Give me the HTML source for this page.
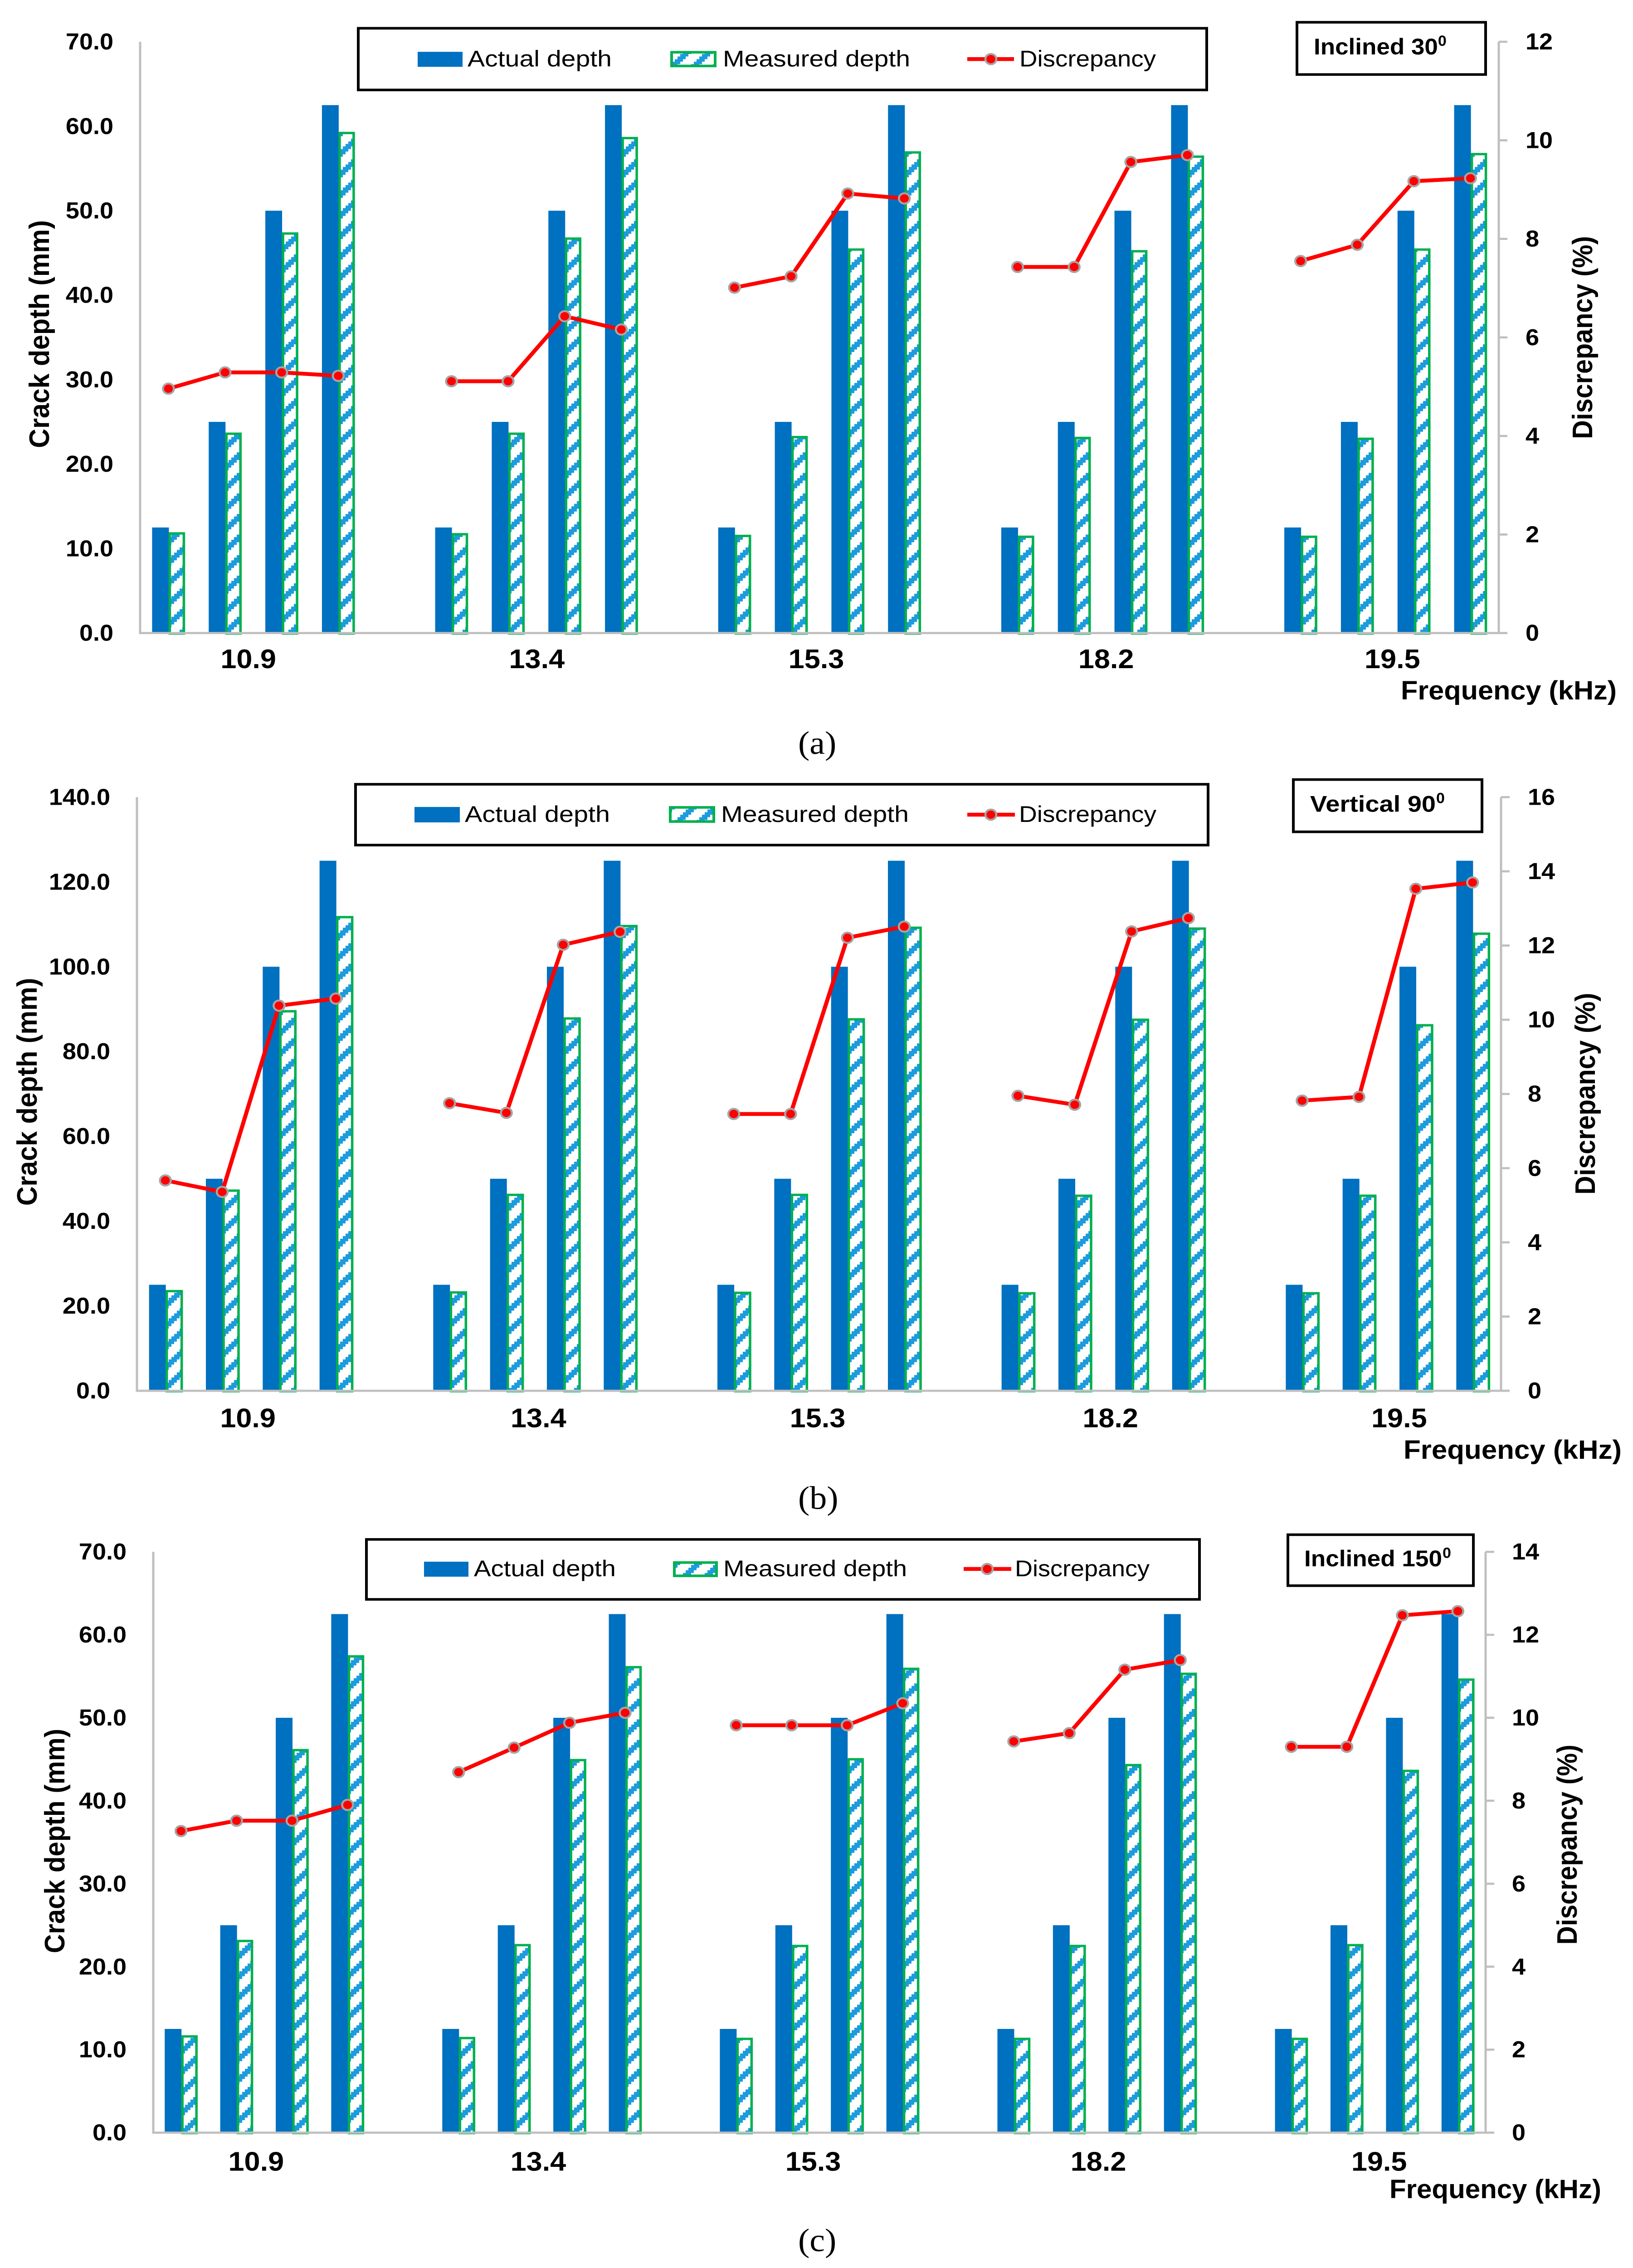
<!DOCTYPE html>
<html lang="en">
<head>
<meta charset="utf-8">
<title>Crack depth and discrepancy versus frequency</title>
<style>
html,body{margin:0;padding:0;background:#fff;width:3601px;height:5295px;overflow:hidden}
#frame{position:relative;width:3601px;height:5295px;overflow:hidden}
svg{display:block;position:absolute;left:0;top:0}
text{font-family:"Liberation Sans",sans-serif;fill:#000}
.b{font-weight:700}
.tick{font-size:54px;font-weight:700}
.cat{font-size:63px;font-weight:700}
.axt{font-size:62px;font-weight:700}
.leg{font-size:53px}
.ins{font-size:53px;font-weight:700}
.cap{font-size:76px;font-family:"Liberation Serif",serif}
</style>
</head>
<body>
<div id="frame">
<svg id="figure" xmlns="http://www.w3.org/2000/svg" width="3601" height="5295" viewBox="0 0 3601 5295" preserveAspectRatio="none">
<defs>
  <pattern id="hatch" patternUnits="userSpaceOnUse" width="48" height="48">
    <rect width="48" height="48" fill="#fff"/>
    <g id="hatch-steps" fill="#1C9BDD" shape-rendering="crispEdges"></g>
  </pattern>
</defs>

<g id="chart-a"></g>
<g id="chart-b"></g>
<g id="chart-c"></g>

<!-- Chart (a) annotations -->
<g>
  <rect x="790" y="66" width="1871" height="144" fill="none" stroke="#000" stroke-width="6"/>
  <rect x="921" y="121" width="99" height="35" fill="#0070C0"/>
  <text class="leg" x="1031" y="155" textLength="318" lengthAdjust="spacingAndGlyphs">Actual depth</text>
  <rect x="1481" y="122" width="96" height="32" fill="url(#hatch)" stroke="#00B050" stroke-width="6"/>
  <text class="leg" x="1594" y="155" textLength="413" lengthAdjust="spacingAndGlyphs">Measured depth</text>
  <line x1="2133" y1="138" x2="2236" y2="138" stroke="#f00" stroke-width="9"/>
  <circle cx="2185" cy="138" r="12" fill="#f00" stroke="#A5A5A5" stroke-width="4.5"/>
  <text class="leg" x="2248" y="155" textLength="301" lengthAdjust="spacingAndGlyphs">Discrepancy</text>
</g>
<g>
  <rect x="2860" y="52" width="416" height="122" fill="none" stroke="#000" stroke-width="6"/>
  <text class="ins" x="2897" y="127">Inclined 30<tspan dy="-20" font-size="34">0</tspan></text>
</g>
<text class="axt" transform="translate(108 1046) rotate(-90)" textLength="532" lengthAdjust="spacingAndGlyphs">Crack depth (mm)</text>
<text class="axt" transform="translate(3511 1025) rotate(-90)" textLength="474" lengthAdjust="spacingAndGlyphs">Discrepancy (%)</text>
<text class="axt" x="3089" y="1633" textLength="476" lengthAdjust="spacingAndGlyphs">Frequency (kHz)</text>
<text class="cap" x="1760" y="1760">(a)</text>

<!-- Chart (b) annotations -->
<g>
  <rect x="784" y="1831" width="1880" height="142" fill="none" stroke="#000" stroke-width="6"/>
  <rect x="914" y="1884" width="100" height="36" fill="#0070C0"/>
  <text class="leg" x="1025" y="1919" textLength="320" lengthAdjust="spacingAndGlyphs">Actual depth</text>
  <rect x="1478" y="1885" width="96" height="33" fill="url(#hatch)" stroke="#00B050" stroke-width="6"/>
  <text class="leg" x="1590" y="1919" textLength="414" lengthAdjust="spacingAndGlyphs">Measured depth</text>
  <line x1="2133" y1="1902" x2="2238" y2="1902" stroke="#f00" stroke-width="9"/>
  <circle cx="2185" cy="1902" r="12" fill="#f00" stroke="#A5A5A5" stroke-width="4.5"/>
  <text class="leg" x="2247" y="1919" textLength="303" lengthAdjust="spacingAndGlyphs">Discrepancy</text>
</g>
<g>
  <rect x="2852" y="1820" width="416" height="122" fill="none" stroke="#000" stroke-width="6"/>
  <text class="ins" x="2889" y="1895" textLength="277" lengthAdjust="spacingAndGlyphs">Vertical 90</text>
  <text class="ins" x="3167" y="1875" style="font-size:34px">0</text>
</g>
<text class="axt" transform="translate(81 2815) rotate(-90)" textLength="532" lengthAdjust="spacingAndGlyphs">Crack depth (mm)</text>
<text class="axt" transform="translate(3517 2789) rotate(-90)" textLength="471" lengthAdjust="spacingAndGlyphs">Discrepancy (%)</text>
<text class="axt" x="3095" y="3406" textLength="481" lengthAdjust="spacingAndGlyphs">Frequency (kHz)</text>
<text class="cap" x="1760" y="3523">(b)</text>

<!-- Chart (c) annotations -->
<g>
  <rect x="808" y="3594" width="1837" height="140" fill="none" stroke="#000" stroke-width="6"/>
  <rect x="935" y="3646" width="98" height="35" fill="#0070C0"/>
  <text class="leg" x="1045" y="3680" textLength="313" lengthAdjust="spacingAndGlyphs">Actual depth</text>
  <rect x="1487" y="3648" width="93" height="31" fill="url(#hatch)" stroke="#00B050" stroke-width="6"/>
  <text class="leg" x="1595" y="3680" textLength="405" lengthAdjust="spacingAndGlyphs">Measured depth</text>
  <line x1="2125" y1="3663" x2="2230" y2="3663" stroke="#f00" stroke-width="9"/>
  <circle cx="2177" cy="3663" r="12" fill="#f00" stroke="#A5A5A5" stroke-width="4.5"/>
  <text class="leg" x="2238" y="3680" textLength="297" lengthAdjust="spacingAndGlyphs">Discrepancy</text>
</g>
<g>
  <rect x="2840" y="3583" width="409" height="119" fill="none" stroke="#000" stroke-width="6"/>
  <text class="ins" x="2876" y="3657" textLength="304" lengthAdjust="spacingAndGlyphs">Inclined 150</text>
  <text class="ins" x="3181" y="3637" style="font-size:34px">0</text>
</g>
<text class="axt" transform="translate(142 4560) rotate(-90)" textLength="524" lengthAdjust="spacingAndGlyphs">Crack depth (mm)</text>
<text class="axt" transform="translate(3477 4540) rotate(-90)" textLength="467" lengthAdjust="spacingAndGlyphs">Discrepancy (%)</text>
<text class="axt" x="3064" y="5132" textLength="467" lengthAdjust="spacingAndGlyphs">Frequency (kHz)</text>
<text class="cap" x="1760" y="5256">(c)</text>
</svg>
</div>

<script>
// ---- Data ----
const categories = ['10.9', '13.4', '15.3', '18.2', '19.5'];

const actualA = [12.5, 25, 50, 62.5, 12.5, 25, 50, 62.5, 12.5, 25, 50, 62.5, 12.5, 25, 50, 62.5, 12.5, 25, 50, 62.5];
const measuredA = [11.8, 23.6, 47.3, 59.2, 11.7, 23.6, 46.7, 58.6, 11.5, 23.2, 45.4, 56.9, 11.4, 23.1, 45.2, 56.4, 11.4, 23.0, 45.4, 56.7];
const discrepancyA = [4.96, 5.29, 5.29, 5.22, 5.11, 5.11, 6.43, 6.16, 7.01, 7.24, 8.92, 8.82, 7.43, 7.43, 9.56, 9.70, 7.55, 7.88, 9.17, 9.23];
const leftTicksA = [0, 10, 20, 30, 40, 50, 60, 70];
const rightTicksA = [0, 2, 4, 6, 8, 10, 12];

const actualB = [25, 50, 100, 125, 25, 50, 100, 125, 25, 50, 100, 125, 25, 50, 100, 125, 25, 50, 100, 125];
const measuredB = [23.5, 47.2, 89.5, 111.7, 23.2, 46.2, 87.8, 109.6, 23.1, 46.2, 87.6, 109.2, 23.0, 46.0, 87.5, 109.0, 23.0, 46.0, 86.2, 107.8];
const discrepancyB = [5.67, 5.36, 10.38, 10.57, 7.75, 7.49, 12.02, 12.37, 7.46, 7.46, 12.21, 12.51, 7.95, 7.71, 12.38, 12.74, 7.82, 7.92, 13.53, 13.70];
const leftTicksB = [0, 20, 40, 60, 80, 100, 120, 140];
const rightTicksB = [0, 2, 4, 6, 8, 10, 12, 14, 16];

const actualC = [12.5, 25, 50, 62.5, 12.5, 25, 50, 62.5, 12.5, 25, 50, 62.5, 12.5, 25, 50, 62.5, 12.5, 25, 50, 62.5];
const measuredC = [11.6, 23.1, 46.1, 57.4, 11.4, 22.6, 44.9, 56.1, 11.3, 22.5, 45.0, 55.9, 11.3, 22.5, 44.3, 55.3, 11.3, 22.6, 43.6, 54.6];
const discrepancyC = [7.27, 7.52, 7.52, 7.90, 8.69, 9.28, 9.88, 10.12, 9.82, 9.82, 9.82, 10.35, 9.43, 9.63, 11.16, 11.39, 9.30, 9.30, 12.47, 12.57];
const leftTicksC = [0, 10, 20, 30, 40, 50, 60, 70];
const rightTicksC = [0, 2, 4, 6, 8, 10, 12, 14];

// If the viewport is a little shorter than the figure, fit the figure to it
// so the bottom of the last chart and its caption stay inside the frame.
const viewH = window.innerHeight;
if (viewH >= 4000 && viewH < 5295) {
  document.documentElement.style.height = viewH + 'px';
  document.body.style.height = viewH + 'px';
  document.getElementById('frame').style.height = viewH + 'px';
  document.getElementById('figure').setAttribute('height', viewH);
}

// ---- Rendering ----
const SVGNS = 'http://www.w3.org/2000/svg';
function add(parent, tag, attrs) {
  const el = document.createElementNS(SVGNS, tag);
  for (const k in attrs) el.setAttribute(k, attrs[k]);
  parent.appendChild(el);
  return el;
}

// Hatch cells: an 8x8 upward diagonal, drawn as stepped blocks.
const hatchSteps = document.getElementById('hatch-steps');
for (let k = 0; k < 8; k++) {
  for (let j = 0; j < 3; j++) {
    add(hatchSteps, 'rect', { x: k * 6, y: ((7 - k + j) % 8) * 6, width: 6, height: 6 });
  }
}

function fmtLeft(v) { return v.toFixed(1); }

function drawChart(cfg) {
  const root = document.getElementById(cfg.id);
  const n = 24;
  const slotW = (cfg.right - cfg.left) / n;
  const leftMax = cfg.leftTicks[cfg.leftTicks.length - 1];
  const rightMax = cfg.rightTicks[cfg.rightTicks.length - 1];
  const slotOf = i => Math.floor(i / 4) * 5 + (i % 4);
  const xSlot = s => cfg.left + (s + 0.5) * slotW;
  const yLeft = v => cfg.y0 - v / leftMax * (cfg.y0 - cfg.top);
  const yRight = v => cfg.y0 - v / rightMax * (cfg.y0 - cfg.top);

  cfg.actual.forEach((v, i) => {
    const c = xSlot(slotOf(i));
    const bar = add(root, 'rect', { x: c - 36, y: yLeft(v), width: 37, height: cfg.y0 - yLeft(v), fill: '#0070C0' });
    
    
  });
  cfg.measured.forEach((v, i) => {
    const c = xSlot(slotOf(i));
    const bar = add(root, 'rect', { x: c + 3, y: yLeft(v), width: cfg.mw, height: cfg.y0 + 1 - yLeft(v), fill: 'url(#hatch)', stroke: '#00B050', 'stroke-width': 5.5 });
    
    
  });

  const leftAxis = add(root, 'line', { x1: cfg.left, y1: cfg.top, x2: cfg.left, y2: cfg.y0 + 2.5, stroke: '#BFBFBF', 'stroke-width': 5 });
  
  
  const rightAxis = add(root, 'line', { x1: cfg.right, y1: cfg.top, x2: cfg.right, y2: cfg.y0, stroke: '#BFBFBF', 'stroke-width': 5 });
  
  
  const xAxis = add(root, 'line', { x1: cfg.left - 2.5, y1: cfg.y0, x2: cfg.right + 19, y2: cfg.y0, stroke: '#BFBFBF', 'stroke-width': 5 });
  
  

  cfg.leftTicks.forEach(v => {
    const t = add(root, 'text', { class: 'tick', x: cfg.leftLabelX, y: yLeft(v) + 18, 'text-anchor': 'end' });
    t.textContent = fmtLeft(v);
    
    
  });
  cfg.rightTicks.forEach(v => {
    const m = add(root, 'line', { x1: cfg.right, y1: yRight(v), x2: cfg.right + 19, y2: yRight(v), stroke: '#BFBFBF', 'stroke-width': 5 });
    
    
    const t = add(root, 'text', { class: 'tick', x: cfg.rightLabelX, y: yRight(v) + 18 });
    t.textContent = String(v);
    
    
  });
  categories.forEach((label, g) => {
    const t = add(root, 'text', { class: 'cat', x: xSlot(g * 5 + 1.5) + cfg.catNudge[g], y: cfg.catY, 'text-anchor': 'middle' });
    t.textContent = label;
    
    
  });

  categories.forEach((label, g) => {
    const pts = cfg.discrepancy.slice(g * 4, g * 4 + 4).map((v, j) => [xSlot(g * 5 + j), yRight(v)]);
    const line = add(root, 'polyline', { points: pts.map(p => p.join(',')).join(' '), fill: 'none', stroke: '#f00', 'stroke-width': 9, 'stroke-linejoin': 'round' });
    
    
    pts.forEach(p => {
      const dot = add(root, 'circle', { cx: p[0], cy: p[1], r: 12, fill: '#f00', stroke: '#A5A5A5', 'stroke-width': 4.5 });
      
      
    });
  });
}

drawChart({ id: 'chart-a', left: 309, right: 3305, top: 97.5, y0: 1478, mw: 31, leftLabelX: 250, rightLabelX: 3364, catY: 1560, catNudge: [-11, 1, -7, 8, 15],
  actual: actualA, measured: measuredA, discrepancy: discrepancyA, leftTicks: leftTicksA, rightTicks: rightTicksA });
drawChart({ id: 'chart-b', left: 302, right: 3310, top: 1861, y0: 3247, mw: 33, leftLabelX: 243, rightLabelX: 3369, catY: 3332, catNudge: [-6, 8, -3, 16, 26],
  actual: actualB, measured: measuredB, discrepancy: discrepancyB, leftTicks: leftTicksB, rightTicks: rightTicksB });
drawChart({ id: 'chart-c', left: 338, right: 3276, top: 3623, y0: 4979, mw: 31, leftLabelX: 279, rightLabelX: 3334, catY: 5068, catNudge: [-18, -8, -14, 3, 10],
  actual: actualC, measured: measuredC, discrepancy: discrepancyC, leftTicks: leftTicksC, rightTicks: rightTicksC });
</script>
</body>
</html>
